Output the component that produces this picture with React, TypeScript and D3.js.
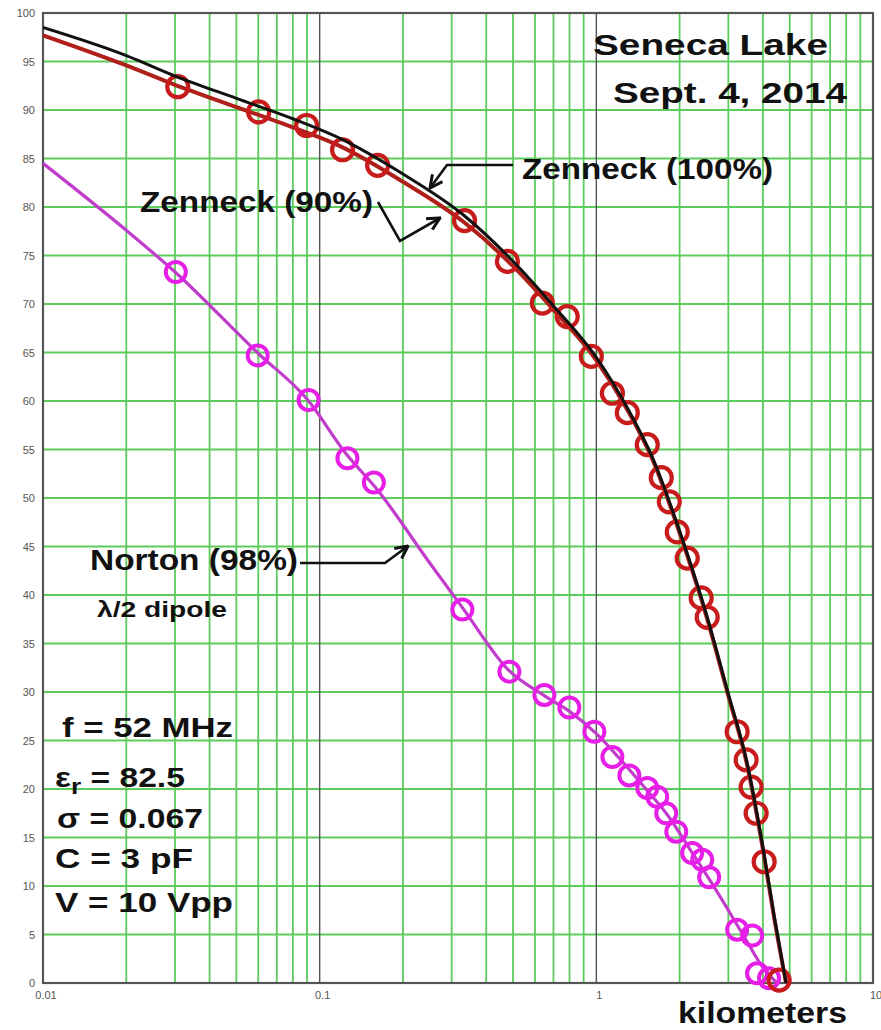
import React from 'react';
import * as d3 from 'd3';

// ---- data (distance in km, value in %) ----
const xTickValues = [0.01, 0.1, 1, 10];
const xTickLabels = ['0.01', '0.1', '1', '10'];
const yTickValues = [0, 5, 10, 15, 20, 25, 30, 35, 40, 45, 50, 55, 60, 65, 70, 75, 80, 85, 90, 95, 100];

const zenneck100Km = [0.01, 0.02, 0.03, 0.05, 0.08, 0.12, 0.2, 0.33, 0.5, 0.7, 1.0, 1.3, 1.6, 2.0, 2.5, 3.0, 3.5, 4.0, 4.4, 4.85];
const zenneck100Pct = [98.5, 95.6, 93.5, 91.2, 89.1, 87.0, 83.4, 79.2, 74.4, 69.8, 64.5, 59.2, 54.1, 46.6, 38.0, 29.8, 22.8, 14.0, 6.8, 0];

const zenneck90Km = [0.01, 0.02, 0.03, 0.05, 0.08, 0.12, 0.2, 0.33, 0.5, 0.7, 1.0, 1.3, 1.6, 2.0, 2.5, 3.0, 3.5, 4.0, 4.4, 4.85];
const zenneck90Pct = [97.7, 94.6, 92.6, 90.3, 88.2, 86.2, 82.6, 78.5, 73.9, 69.4, 64.2, 59.0, 53.9, 46.4, 37.8, 29.6, 22.6, 13.8, 6.6, 0];

const zenneckMeasKm = [0.0307, 0.0602, 0.0897, 0.121, 0.162, 0.334, 0.477, 0.638, 0.785, 0.959, 1.143, 1.294, 1.528, 1.717, 1.835, 1.961, 2.131, 2.393, 2.516, 3.228, 3.479, 3.627, 3.781, 4.042, 4.578];
const zenneckMeasPct = [92.4, 89.8, 88.4, 85.9, 84.3, 78.6, 74.4, 70.1, 68.7, 64.6, 60.8, 58.8, 55.5, 52.1, 49.6, 46.5, 43.8, 39.7, 37.7, 25.9, 23.0, 20.2, 17.5, 12.5, 0.3];

const nortonKm = [0.01, 0.02, 0.03, 0.06, 0.09, 0.125, 0.16, 0.25, 0.33, 0.48, 0.65, 0.8, 1.0, 1.2, 1.5, 1.8, 2.2, 2.6, 3.0, 3.5, 4.0, 4.5];
const nortonPct = [84.5, 77.6, 73.3, 64.9, 60.2, 54.5, 51.0, 43.3, 38.6, 32.3, 29.6, 28.0, 25.7, 23.3, 20.1, 17.4, 13.6, 10.4, 7.5, 4.3, 1.6, 0];

const nortonMeasKm = [0.0302, 0.0597, 0.0912, 0.126, 0.157, 0.328, 0.485, 0.649, 0.799, 0.984, 1.143, 1.316, 1.528, 1.66, 1.789, 1.945, 2.22, 2.414, 2.558, 3.228, 3.66, 3.81, 4.21];
const nortonMeasPct = [73.3, 64.7, 60.1, 54.1, 51.6, 38.5, 32.1, 29.7, 28.4, 25.9, 23.3, 21.4, 20.1, 19.2, 17.5, 15.6, 13.4, 12.7, 10.9, 5.5, 4.9, 1.0, 0.5];

const W = 881;
const H = 1030;
const M = { left: 43, right: 873, top: 13, bottom: 983 };

export default function App() {
  const x = d3.scaleLog().domain([0.01, 10]).range([M.left, M.right]);
  const y = d3.scaleLinear().domain([0, 100]).range([M.bottom, M.top]);

  const line = d3
    .line<[number, number]>()
    .x((d) => x(d[0]))
    .y((d) => y(d[1]))
    .curve(d3.curveMonotoneX);

  const z100 = zenneck100Km.map((k, i) => [k, zenneck100Pct[i]] as [number, number]);
  const z90 = zenneck90Km.map((k, i) => [k, zenneck90Pct[i]] as [number, number]);
  const nor = nortonKm.map((k, i) => [k, nortonPct[i]] as [number, number]);

  const minor: number[] = [];
  [0.01, 0.1, 1].forEach((d) => {
    for (let k = 2; k <= 9; k++) minor.push(d * k);
  });

  const green = '#5ccc5c';
  const font = "'Liberation Sans', Arial, sans-serif";

  return (
    <svg
      width={W}
      height={H}
      style={{ position: 'absolute', left: 0, top: 0, display: 'block', background: '#fff' }}
    >
      <defs>
        <marker id="arr" viewBox="0 0 12 12" refX="11" refY="6" markerWidth="15" markerHeight="15" markerUnits="userSpaceOnUse" orient="auto">
          <path d="M1,1 L11,6 L1,11" fill="none" stroke="#111" strokeWidth="2.4" />
        </marker>
        <clipPath id="plotclip">
          <rect x={M.left} y={M.top - 12} width={M.right - M.left + 12} height={M.bottom - M.top + 24} />
        </clipPath>
      </defs>
      <rect x={0} y={0} width={W} height={H} fill="#fff" />

      {/* grid */}
      {yTickValues.slice(1, -1).map((v) => (
        <line key={'h' + v} x1={M.left} x2={M.right} y1={y(v)} y2={y(v)} stroke={green} strokeWidth={1.8} />
      ))}
      {minor.map((v) => (
        <line key={'v' + v} x1={x(v)} x2={x(v)} y1={M.top} y2={M.bottom} stroke={green} strokeWidth={1.8} />
      ))}
      {[0.1, 1].map((v) => (
        <line key={'d' + v} x1={x(v)} x2={x(v)} y1={M.top} y2={M.bottom} stroke="#555" strokeWidth={1.4} />
      ))}
      <rect x={M.left} y={M.top} width={M.right - M.left} height={M.bottom - M.top} fill="none" stroke="#555" strokeWidth={2.2} />

      {/* tick labels */}
      {yTickValues.map((v) => (
        <text key={'yl' + v} x={35} y={y(v) + 4} textAnchor="end" fontSize={11} fill="#555" fontFamily={font}>
          {v}
        </text>
      ))}
      {xTickValues.map((v, i) => (
        <text key={'xl' + v} x={x(v) + 3} y={999} textAnchor="middle" fontSize={11} fill="#555" fontFamily={font}>
          {xTickLabels[i]}
        </text>
      ))}

      {/* curves */}
      <g clipPath="url(#plotclip)">
        <path d={line(nor) || ''} fill="none" stroke="#c23ccc" strokeWidth={3.2} />
        {nortonMeasKm.map((k, i) => (
          <circle key={'n' + i} cx={x(k)} cy={y(nortonMeasPct[i])} r={10} fill="none" stroke="#e61ee6" strokeWidth={4} />
        ))}
        <path d={line(z90) || ''} fill="none" stroke="#b0201a" strokeWidth={4} />
        {zenneckMeasKm.map((k, i) => (
          <circle key={'z' + i} cx={x(k)} cy={y(zenneckMeasPct[i])} r={10.5} fill="none" stroke="#c81c1c" strokeWidth={4.2} />
        ))}
        <path d={line(z100) || ''} fill="none" stroke="#111" strokeWidth={3} />
      </g>

      {/* titles */}
      <g fontFamily={font} fontWeight="bold" fill="#111">
        <text x={593} y={55} fontSize={30} textLength={235} lengthAdjust="spacingAndGlyphs">Seneca Lake</text>
        <text x={613} y={103} fontSize={30} textLength={234} lengthAdjust="spacingAndGlyphs">Sept. 4, 2014</text>
        <text x={522} y={179} fontSize={30} textLength={251} lengthAdjust="spacingAndGlyphs">Zenneck (100%)</text>
        <text x={140} y={212} fontSize={30} textLength={233} lengthAdjust="spacingAndGlyphs">Zenneck (90%)</text>
        <text x={90} y={570} fontSize={30} textLength={208} lengthAdjust="spacingAndGlyphs">Norton (98%)</text>
        <text x={97} y={617} fontSize={22} textLength={130} lengthAdjust="spacingAndGlyphs">λ/2 dipole</text>
        <text x={62} y={737} fontSize={27} textLength={171} lengthAdjust="spacingAndGlyphs">f = 52 MHz</text>
        <g transform="translate(55,787) scale(1.2,1)">
          <text x={0} y={0} fontSize={28}>
            <tspan>ε</tspan>
            <tspan fontSize={22} dy={7}>r</tspan>
            <tspan dy={-7} fontSize={28}> = 82.5</tspan>
          </text>
        </g>
        <text x={57} y={828} fontSize={27} textLength={146} lengthAdjust="spacingAndGlyphs">σ = 0.067</text>
        <text x={55} y={868} fontSize={27} textLength={138} lengthAdjust="spacingAndGlyphs">C = 3 pF</text>
        <text x={55} y={912} fontSize={27} textLength={178} lengthAdjust="spacingAndGlyphs">V = 10 Vpp</text>
        <text x={678} y={1023} fontSize={30} textLength={169} lengthAdjust="spacingAndGlyphs">kilometers</text>
      </g>

      {/* annotation arrows */}
      <g fill="none" stroke="#111" strokeWidth={2.6}>
        <path d="M513,165 L447,165 L430,188" markerEnd="url(#arr)" />
        <path d="M378,202 L400,241 L440,218" markerEnd="url(#arr)" />
        <path d="M300,563 L385,563 L408,546" markerEnd="url(#arr)" />
      </g>
    </svg>
  );
}
